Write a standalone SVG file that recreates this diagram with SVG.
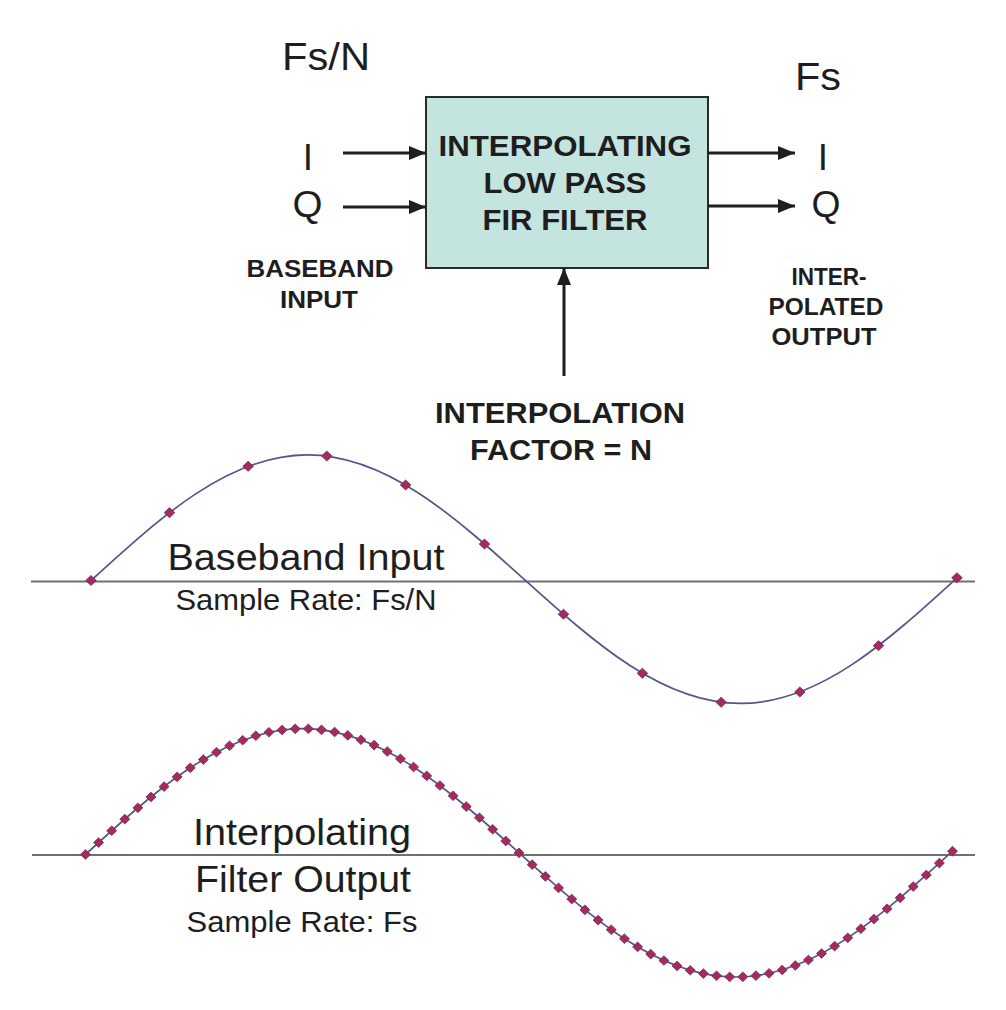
<svg xmlns="http://www.w3.org/2000/svg" xmlns:xlink="http://www.w3.org/1999/xlink" width="1006" height="1010" viewBox="0 0 1006 1010">
<style>
.t{font-family:"Liberation Sans",Arial,sans-serif;fill:#1e1e1e;text-anchor:middle}
.b{font-weight:bold}
.cn{stroke:#1e1e1e;stroke-width:3;fill:none}
.ax{stroke:#707070;stroke-width:2}
.wv{fill:none;stroke:#55558c;stroke-width:1.7}
.dm{fill:#a82a5a;stroke:#6e2a5c;stroke-width:0.8}
</style>
<defs>
<marker id="ah" markerUnits="userSpaceOnUse" markerWidth="18" markerHeight="14" refX="17" refY="7" orient="auto">
<path d="M0,0 L17,7 L0,14 Z" fill="#1e1e1e"/>
</marker>
<path id="d" class="dm" d="M0,-5 L5.3,0 L0,5 L-5.3,0 Z"/>
<path id="e" class="dm" d="M0,-4.8 L5,0 L0,4.8 L-5,0 Z"/>
</defs>
<rect width="1006" height="1010" fill="#ffffff"/>

<g id="rate-in"><text class="t" x="326" y="70" font-size="38" textLength="88" lengthAdjust="spacingAndGlyphs">Fs/N</text></g>
<g id="rate-out"><text class="t" x="818" y="90" font-size="38" textLength="46" lengthAdjust="spacingAndGlyphs">Fs</text></g>

<g id="in-i"><text class="t" x="308" y="170" font-size="37">I</text></g>
<g id="in-q"><text class="t" x="307.5" y="217" font-size="36" textLength="30" lengthAdjust="spacingAndGlyphs">Q</text></g>
<g id="out-i"><text class="t" x="823" y="170" font-size="37">I</text></g>
<g id="out-q"><text class="t" x="826" y="217" font-size="36" textLength="29" lengthAdjust="spacingAndGlyphs">Q</text></g>

<g id="filter">
<rect x="426" y="97" width="282" height="171" fill="#c4e4e0" stroke="#2a2a2a" stroke-width="2"/>
<text class="t b" x="565" y="156" font-size="29" textLength="253" lengthAdjust="spacingAndGlyphs">INTERPOLATING</text>
<text class="t b" x="565" y="193" font-size="29" textLength="163" lengthAdjust="spacingAndGlyphs">LOW PASS</text>
<text class="t b" x="565" y="230" font-size="29" textLength="165" lengthAdjust="spacingAndGlyphs">FIR FILTER</text>
</g>

<g id="baseband-label">
<text class="t b" x="320" y="277" font-size="23" textLength="147" lengthAdjust="spacingAndGlyphs">BASEBAND</text>
<text class="t b" x="319" y="308" font-size="23" textLength="78" lengthAdjust="spacingAndGlyphs">INPUT</text>
</g>
<g id="output-label">
<text class="t b" x="829" y="285" font-size="23" textLength="75" lengthAdjust="spacingAndGlyphs">INTER-</text>
<text class="t b" x="826" y="315" font-size="23" textLength="115" lengthAdjust="spacingAndGlyphs">POLATED</text>
<text class="t b" x="824" y="345" font-size="23" textLength="105" lengthAdjust="spacingAndGlyphs">OUTPUT</text>
</g>
<g id="factor">
<text class="t b" x="560" y="423" font-size="29" textLength="250" lengthAdjust="spacingAndGlyphs">INTERPOLATION</text>
<text class="t b" x="561" y="460" font-size="29" textLength="182" lengthAdjust="spacingAndGlyphs">FACTOR = N</text>
</g>

<g id="connectors">
<line class="cn" x1="343" y1="153" x2="426" y2="153" marker-end="url(#ah)"/>
<line class="cn" x1="343" y1="207" x2="426" y2="207" marker-end="url(#ah)"/>
<line class="cn" x1="708" y1="153" x2="795" y2="153" marker-end="url(#ah)"/>
<line class="cn" x1="708" y1="206" x2="795" y2="206" marker-end="url(#ah)"/>
<line class="cn" x1="564" y1="376" x2="564" y2="268" marker-end="url(#ah)"/>
</g>

<g id="baseband-plot">
<line class="ax" x1="31" y1="581.5" x2="975" y2="581.5"/>
<g transform="translate(91,580.5) rotate(-0.18)">
<path class="wv" d="M0,0 C70.6,-64.04 138.15,-125 216.5,-125 C294.85,-125 362.4,-64.04 433,0 C503.6,64.04 571.15,125 649.5,125 C727.85,125 795.4,64.04 866,0"/>
<use xlink:href="#d" x="0" y="0"/>
<use xlink:href="#d" x="78.7" y="-67.6"/>
<use xlink:href="#d" x="157.5" y="-113.7"/>
<use xlink:href="#d" x="236.2" y="-123.7"/>
<use xlink:href="#d" x="314.9" y="-94.5"/>
<use xlink:href="#d" x="393.6" y="-35.2"/>
<use xlink:href="#d" x="472.4" y="35.2"/>
<use xlink:href="#d" x="551.1" y="94.5"/>
<use xlink:href="#d" x="629.8" y="123.7"/>
<use xlink:href="#d" x="708.5" y="113.7"/>
<use xlink:href="#d" x="787.3" y="67.6"/>
<use xlink:href="#d" x="866" y="0"/>
</g>
<text class="t" x="306" y="570" font-size="36" textLength="277" lengthAdjust="spacingAndGlyphs">Baseband Input</text>
<text class="t" x="306" y="610" font-size="29" textLength="261" lengthAdjust="spacingAndGlyphs">Sample Rate: Fs/N</text>
</g>

<g id="output-plot">
<line class="ax" x1="32" y1="855" x2="975" y2="855"/>
<g transform="translate(85.5,854.5) rotate(-0.22)">
<path class="wv" stroke-width="2.4" stroke="#4e5a96" d="M0,0 C70.68,-64.04 138.31,-125 216.75,-125 C295.19,-125 362.82,-64.04 433.5,0 C504.18,64.04 571.81,125 650.25,125 C728.69,125 796.32,64.04 867,0"/>
<use xlink:href="#e" x="0" y="0"/>
<use xlink:href="#e" x="13.14" y="-11.88"/>
<use xlink:href="#e" x="26.27" y="-23.66"/>
<use xlink:href="#e" x="39.41" y="-35.22"/>
<use xlink:href="#e" x="52.55" y="-46.46"/>
<use xlink:href="#e" x="65.68" y="-57.28"/>
<use xlink:href="#e" x="78.82" y="-67.58"/>
<use xlink:href="#e" x="91.95" y="-77.27"/>
<use xlink:href="#e" x="105.09" y="-86.26"/>
<use xlink:href="#e" x="118.23" y="-94.47"/>
<use xlink:href="#e" x="131.36" y="-101.82"/>
<use xlink:href="#e" x="144.5" y="-108.25"/>
<use xlink:href="#e" x="157.64" y="-113.71"/>
<use xlink:href="#e" x="170.77" y="-118.13"/>
<use xlink:href="#e" x="183.91" y="-121.48"/>
<use xlink:href="#e" x="197.05" y="-123.73"/>
<use xlink:href="#e" x="210.18" y="-124.86"/>
<use xlink:href="#e" x="223.32" y="-124.86"/>
<use xlink:href="#e" x="236.45" y="-123.73"/>
<use xlink:href="#e" x="249.59" y="-121.48"/>
<use xlink:href="#e" x="262.73" y="-118.13"/>
<use xlink:href="#e" x="275.86" y="-113.71"/>
<use xlink:href="#e" x="289" y="-108.25"/>
<use xlink:href="#e" x="302.14" y="-101.82"/>
<use xlink:href="#e" x="315.27" y="-94.47"/>
<use xlink:href="#e" x="328.41" y="-86.26"/>
<use xlink:href="#e" x="341.55" y="-77.27"/>
<use xlink:href="#e" x="354.68" y="-67.58"/>
<use xlink:href="#e" x="367.82" y="-57.28"/>
<use xlink:href="#e" x="380.95" y="-46.46"/>
<use xlink:href="#e" x="394.09" y="-35.22"/>
<use xlink:href="#e" x="407.23" y="-23.66"/>
<use xlink:href="#e" x="420.36" y="-11.88"/>
<use xlink:href="#e" x="433.5" y="0"/>
<use xlink:href="#e" x="446.64" y="11.88"/>
<use xlink:href="#e" x="459.77" y="23.66"/>
<use xlink:href="#e" x="472.91" y="35.22"/>
<use xlink:href="#e" x="486.05" y="46.46"/>
<use xlink:href="#e" x="499.18" y="57.28"/>
<use xlink:href="#e" x="512.32" y="67.58"/>
<use xlink:href="#e" x="525.45" y="77.27"/>
<use xlink:href="#e" x="538.59" y="86.26"/>
<use xlink:href="#e" x="551.73" y="94.47"/>
<use xlink:href="#e" x="564.86" y="101.82"/>
<use xlink:href="#e" x="578" y="108.25"/>
<use xlink:href="#e" x="591.14" y="113.71"/>
<use xlink:href="#e" x="604.27" y="118.13"/>
<use xlink:href="#e" x="617.41" y="121.48"/>
<use xlink:href="#e" x="630.55" y="123.73"/>
<use xlink:href="#e" x="643.68" y="124.86"/>
<use xlink:href="#e" x="656.82" y="124.86"/>
<use xlink:href="#e" x="669.95" y="123.73"/>
<use xlink:href="#e" x="683.09" y="121.48"/>
<use xlink:href="#e" x="696.23" y="118.13"/>
<use xlink:href="#e" x="709.36" y="113.71"/>
<use xlink:href="#e" x="722.5" y="108.25"/>
<use xlink:href="#e" x="735.64" y="101.82"/>
<use xlink:href="#e" x="748.77" y="94.47"/>
<use xlink:href="#e" x="761.91" y="86.26"/>
<use xlink:href="#e" x="775.05" y="77.27"/>
<use xlink:href="#e" x="788.18" y="67.58"/>
<use xlink:href="#e" x="801.32" y="57.28"/>
<use xlink:href="#e" x="814.45" y="46.46"/>
<use xlink:href="#e" x="827.59" y="35.22"/>
<use xlink:href="#e" x="840.73" y="23.66"/>
<use xlink:href="#e" x="853.86" y="11.88"/>
<use xlink:href="#e" x="867" y="0"/>
</g>
<text class="t" x="302" y="845" font-size="36" textLength="218" lengthAdjust="spacingAndGlyphs">Interpolating</text>
<text class="t" x="303" y="892" font-size="36" textLength="216" lengthAdjust="spacingAndGlyphs">Filter Output</text>
<text class="t" x="302" y="932" font-size="29" textLength="231" lengthAdjust="spacingAndGlyphs">Sample Rate: Fs</text>
</g>
</svg>
